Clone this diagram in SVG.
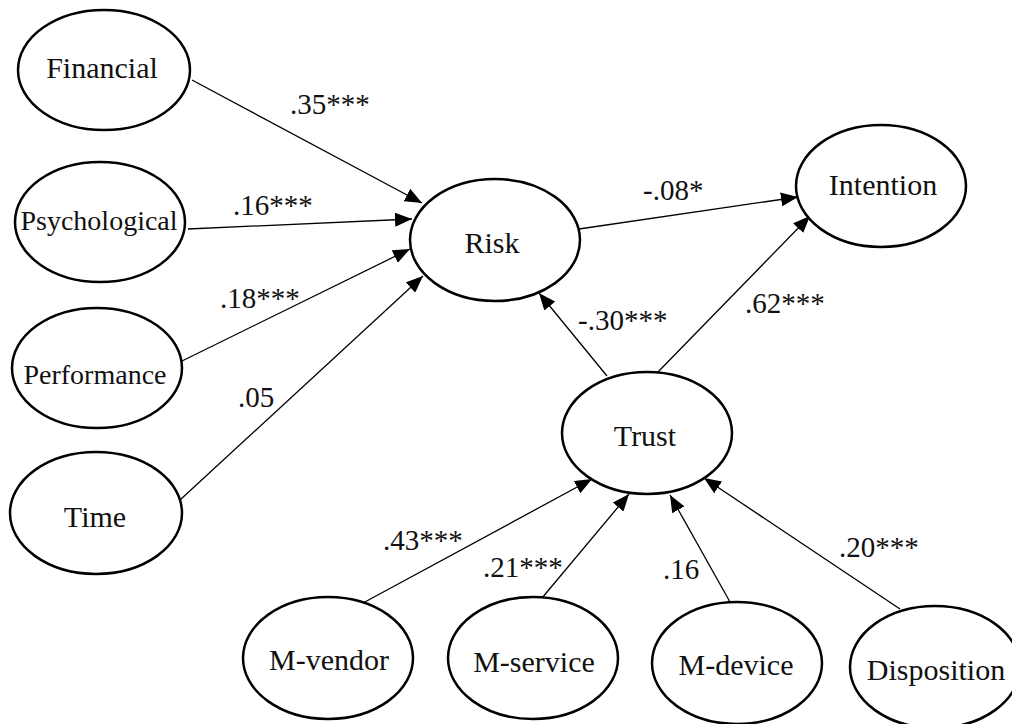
<svg xmlns="http://www.w3.org/2000/svg" width="1012" height="724" viewBox="0 0 1012 724">
<style>
.n{fill:#fff;stroke:#000;stroke-width:2.5}
.t{font-size:30px;fill:#111;text-anchor:middle}
.s{font-size:28px}
.c line{stroke:#000;stroke-width:1.3;marker-end:url(#ah)}
.l{font-size:29px;fill:#111}
</style>
<defs>
<marker id="ah" markerUnits="userSpaceOnUse" markerWidth="18" markerHeight="14" refX="17" refY="7" orient="auto">
<path d="M0,0 L17,7 L0,14 z" fill="#000"/>
</marker>
</defs>
<rect width="1012" height="724" fill="#fff"/>
<g class="c" id="connectors">
<line x1="192" y1="80" x2="422" y2="203"/>
<line x1="188" y1="229" x2="412" y2="219"/>
<line x1="182" y1="361" x2="410" y2="249"/>
<line x1="180" y1="500" x2="423" y2="276"/>
<line x1="579" y1="229" x2="798" y2="197"/>
<line x1="607" y1="376" x2="539" y2="293"/>
<line x1="657" y1="373" x2="810" y2="216"/>
<line x1="363" y1="603" x2="592" y2="479"/>
<line x1="542" y1="598" x2="629" y2="494"/>
<line x1="730" y1="602" x2="670" y2="495"/>
<line x1="900" y1="609" x2="704" y2="478"/>
</g>
<g id="labels" font-family="Liberation Serif, Times New Roman, DejaVu Serif, serif">
<text class="l" x="290" y="114">.35***</text>
<text class="l" x="233" y="215">.16***</text>
<text class="l" x="220" y="308">.18***</text>
<text class="l" x="238" y="407">.05</text>
<text class="l" x="643" y="200">-.08*</text>
<text class="l" x="578" y="330">-.30***</text>
<text class="l" x="745" y="313">.62***</text>
<text class="l" x="383" y="550">.43***</text>
<text class="l" x="483" y="577">.21***</text>
<text class="l" x="663" y="579">.16</text>
<text class="l" x="839" y="557">.20***</text>
</g>
<g id="nodes" font-family="Liberation Serif, Times New Roman, DejaVu Serif, serif">
<g id="financial"><ellipse class="n" cx="104" cy="70" rx="86" ry="60"/><text class="t" x="102" y="78">Financial</text></g>
<g id="psychological"><ellipse class="n" cx="100" cy="222" rx="85" ry="60"/><text class="t s" x="99" y="230">Psychological</text></g>
<g id="performance"><ellipse class="n" cx="97" cy="368" rx="85" ry="60"/><text class="t s" x="95" y="384">Performance</text></g>
<g id="time"><ellipse class="n" cx="96" cy="513" rx="86" ry="61"/><text class="t" x="95" y="527">Time</text></g>
<g id="risk"><ellipse class="n" cx="495" cy="240" rx="85" ry="61"/><text class="t" x="492" y="253">Risk</text></g>
<g id="intention"><ellipse class="n" cx="881" cy="186" rx="85" ry="61"/><text class="t" x="883" y="195">Intention</text></g>
<g id="trust"><ellipse class="n" cx="647" cy="433" rx="85" ry="61"/><text class="t" x="645" y="446">Trust</text></g>
<g id="m-vendor"><ellipse class="n" cx="328" cy="658" rx="85" ry="61"/><text class="t" x="329" y="670">M-vendor</text></g>
<g id="m-service"><ellipse class="n" cx="533" cy="658" rx="85" ry="61"/><text class="t" x="534" y="672">M-service</text></g>
<g id="m-device"><ellipse class="n" cx="737" cy="663" rx="85" ry="61"/><text class="t" x="736" y="675">M-device</text></g>
<g id="disposition"><ellipse class="n" cx="935" cy="667" rx="85" ry="61"/><text class="t" x="936" y="680">Disposition</text></g>
</g>
</svg>
